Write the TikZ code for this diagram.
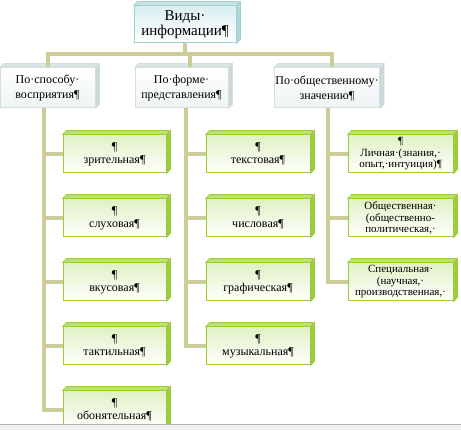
\documentclass[tikz,border=0pt]{standalone}
\usepackage{fontspec}
\setmainfont{Liberation Serif}
\usepackage{tikz}
\usetikzlibrary{positioning,calc}
\definecolor{vibus}{RGB}{204,204,153}
\definecolor{vitopline}{RGB}{160,208,210}
\definecolor{vitopfill}{RGB}{218,238,240}
\definecolor{vitopface}{RGB}{176,214,216}
\definecolor{vigrayline}{RGB}{212,222,222}
\definecolor{vigrayfill}{RGB}{238,243,243}
\definecolor{vigrayface}{RGB}{204,216,216}
\definecolor{vigreenline}{RGB}{156,204,58}
\definecolor{vigreenfill}{RGB}{224,241,196}
\definecolor{vigreentop}{RGB}{190,224,112}
\definecolor{vigreenside}{RGB}{160,204,60}

\begin{document}
\begin{tikzpicture}[x=1pt, y=-1pt,
  conn/.style={vibus, line width=4pt},
  headbox/.style={draw=vitopline, line width=1pt, top color=vitopfill, bottom color=white,
    minimum width=102pt, minimum height=37pt, inner sep=1pt, align=center,
    font=\fontsize{15}{15}\selectfont},
  kindbox/.style={draw=vigrayline, line width=1pt, top color=white, bottom color=vigrayfill,
    minimum height=40pt, inner sep=1pt, align=center,
    font=\fontsize{12}{15}\selectfont},
  itembox/.style={draw=vigreenline, line width=1pt, top color=vigreenfill, bottom color=white,
    minimum height=38pt, inner sep=1pt, align=center,
    font=\fontsize{12}{13}\selectfont},
  socbox/.style={itembox, font=\fontsize{11}{11.5}\selectfont}]
\useasboundingbox (0,0) rectangle (461,430);
% Bus line
\coordinate (bus) at (0,54);
% Head and kinds
\node[headbox] (head) at (185,24.5) {Виды·\\информации¶};
\node[kindbox, minimum width=95pt] (kpercep) at (47.5,88) {По·способу·\\восприятия¶};
\node[kindbox, minimum width=93pt] (kform) at (181.5,88) {По·форме·\\представления¶};
\node[kindbox, minimum width=100pt] (ksocial) at (327,88) {По·общественному·\\значению¶};
% Items: perception
\node[itembox, minimum width=103pt] (psight) at (114.5,154) {¶\\зрительная¶};
\node[itembox, minimum width=103pt] (phear) at (114.5,218) {¶\\слуховая¶};
\node[itembox, minimum width=103pt] (ptaste) at (114.5,282) {¶\\вкусовая¶};
\node[itembox, minimum width=103pt] (ptouch) at (114.5,346) {¶\\тактильная¶};
\node[itembox, minimum width=103pt] (psmell) at (114.5,410) {¶\\обонятельная¶};
% Items: form
\node[itembox, minimum width=104pt] (ftext) at (258,154) {¶\\текстовая¶};
\node[itembox, minimum width=104pt] (fnum) at (258,218) {¶\\числовая¶};
\node[itembox, minimum width=104pt] (fgraph) at (258,282) {¶\\графическая¶};
\node[itembox, minimum width=104pt] (fmusic) at (258,346) {¶\\музыкальная¶};
% Items: social meaning
\node[socbox, minimum width=105pt] (spers) at (400.5,154) {¶\\Личная·(знания,·\\опыт,·интуиция)¶};
\node[socbox, minimum width=105pt] (spub) at (400.5,218) {Общественная·\\(общественно-\\политическая,·};
\node[socbox, minimum width=105pt] (sspec) at (400.5,282) {Специальная·\\(научная,·\\производственная,·};
% 3D faces
\foreach \n/\t/\s in {head/vitopface/vitopline, kpercep/vigrayface/vigrayline,
    kform/vigrayface/vigrayline, ksocial/vigrayface/vigrayline} {
  \filldraw[fill=\t!70, draw=\s, line width=0.6pt] (\n.north west) -- ++(4,-4) -- ([shift={(4,-4)}]\n.north east) -- (\n.north east) -- cycle;
  \filldraw[fill=\t, draw=\s, line width=0.6pt] (\n.north east) -- ++(4,-4) -- ([shift={(4,-4)}]\n.south east) -- (\n.south east) -- cycle;
}
\foreach \n in {psight,phear,ptaste,ptouch,psmell,ftext,fnum,fgraph,fmusic,spers,spub,sspec} {
  \filldraw[fill=vigreentop, draw=vigreenline, line width=0.6pt] (\n.north west) -- ++(4,-4) -- ([shift={(4,-4)}]\n.north east) -- (\n.north east) -- cycle;
  \filldraw[fill=vigreenside, draw=vigreenline, line width=0.6pt] (\n.north east) -- ++(4,-4) -- ([shift={(4,-4)}]\n.south east) -- (\n.south east) -- cycle;
}
% Connectors
\draw[conn] (head.south) -- (head.south |- bus);
\draw[conn] (kpercep.north) -- (kpercep.north |- bus) -- ([xshift=5pt]ksocial.north |- bus) -- ([xshift=5pt]ksocial.north);
\draw[conn] ([xshift=8pt]kform.north) -- ([xshift=8pt]kform.north |- bus);
\foreach \n in {psight,phear,ptaste,ptouch,psmell}
  \draw[conn] ([xshift=-4pt]kpercep.south) |- (\n.west);
\foreach \n in {ftext,fnum,fgraph,fmusic}
  \draw[conn] ([xshift=4pt]kform.south) |- (\n.west);
\foreach \n in {spers,spub,sspec}
  \draw[conn] ([xshift=1pt]ksocial.south) |- (\n.west);
% Window edge
\fill[black!6] (0,425) rectangle (461,430);
\draw[black!30, line width=1pt] (0,425) -- (461,425);
\end{tikzpicture}
\end{document}
